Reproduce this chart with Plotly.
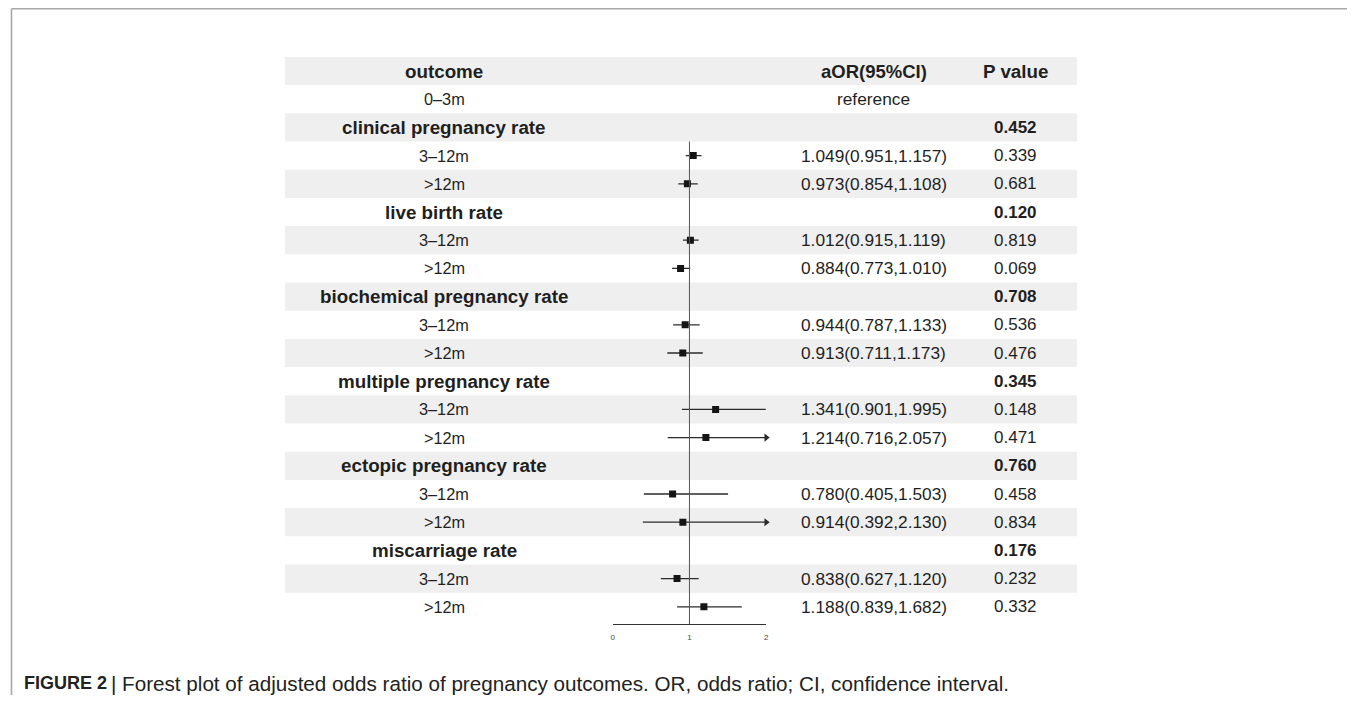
import plotly.graph_objects as go

# ---------------- data ----------------
groups = ["clinical pregnancy rate", "live birth rate", "biochemical pregnancy rate",
          "multiple pregnancy rate", "ectopic pregnancy rate", "miscarriage rate"]
group_p = ["0.452", "0.120", "0.708", "0.345", "0.760", "0.176"]
subgroups = ["3–12m", ">12m"]
ref_label = "0–3m"
ref_text = "reference"
aor = [1.049, 0.973, 1.012, 0.884, 0.944, 0.913, 1.341, 1.214, 0.780, 0.914, 0.838, 1.188]
lower = [0.951, 0.854, 0.915, 0.773, 0.787, 0.711, 0.901, 0.716, 0.405, 0.392, 0.627, 0.839]
upper = [1.157, 1.108, 1.119, 1.010, 1.133, 1.173, 1.995, 2.057, 1.503, 2.130, 1.120, 1.682]
pvals = ["0.339", "0.681", "0.819", "0.069", "0.536", "0.476",
         "0.148", "0.471", "0.458", "0.834", "0.232", "0.332"]
headers = ["outcome", "aOR(95%CI)", "P value"]
x_ticks = [0, 1, 2]
null_value = 1
caption_bold = "FIGURE 2"
caption_rest = "| Forest plot of adjusted odds ratio of pregnancy outcomes. OR, odds ratio; CI, confidence interval."

# ---------------- layout constants (page pixels) ----------------
PAGE_W, PAGE_H = 1355, 703
OFF = 8                      # default body margin of the html page
W, H = PAGE_W - OFF, PAGE_H - 2 * OFF
FONT = "Arial, Liberation Sans, Helvetica, sans-serif"
TXT = "#1f1f1f"
ROW0_PX = 71.0
PITCH = 28.2
AXIS_PX = 624.0
COL_OUT, COL_CI, COL_P = 444, 875, 1017
BAND_L, BAND_R = 284, 1079
XMIN, XMAX = x_ticks[0], x_ticks[-1]


def fx(p):
    return (p - OFF) / W


def fy(p):
    return 1 - (p - OFF) / H


rows = []  # (label, label_bold, ci_text, p_text, p_bold, idx_data)
rows.append((headers[0], True, headers[1], headers[2], True, None))
rows.append((ref_label, False, ref_text, "", False, None))
k = 0
for g, gp in zip(groups, group_p):
    rows.append((g, True, "", gp, True, None))
    for s in subgroups:
        ci = f"{aor[k]:.3f}({lower[k]:.3f},{upper[k]:.3f})"
        rows.append((s, False, ci, pvals[k], False, k))
        k += 1
n_rows = len(rows)

y_top = (OFF - ROW0_PX) / PITCH
y_bot = (AXIS_PX - ROW0_PX) / PITCH

fig = go.Figure()

shapes = []
for i in range(n_rows):
    if i % 2 == 0:
        shapes.append(dict(type="rect", xref="paper", yref="y", x0=fx(BAND_L), x1=fx(BAND_R),
                           y0=i - 0.5, y1=i + 0.5, fillcolor="#efefef", line_width=0, layer="below"))
shapes.append(dict(type="line", xref="x", yref="y", x0=null_value, x1=null_value,
                   y0=2.5, y1=y_bot, line=dict(color="#555555", width=1)))
FRAME = dict(color="#a8a8a8", width=1.6)
shapes.append(dict(type="line", xref="paper", yref="paper", x0=fx(9.5), x1=fx(1353.5),
                   y0=fy(8.8), y1=fy(8.8), line=FRAME))
shapes.append(dict(type="line", xref="paper", yref="paper", x0=fx(9.5), x1=fx(9.5),
                   y0=0, y1=fy(8.8), line=FRAME))
shapes.append(dict(type="line", xref="paper", yref="paper", x0=fx(1353.5), x1=fx(1353.5),
                   y0=0, y1=fy(8.8), line=FRAME))

for i, r in enumerate(rows):
    j = r[5]
    if j is None:
        continue
    hi = min(upper[j], XMAX)
    lo = max(lower[j], XMIN)
    fig.add_trace(go.Scatter(x=[lo, hi], y=[i, i], mode="lines",
                             line=dict(color="#2b2b2b", width=1.3), showlegend=False, hoverinfo="skip"))
    if upper[j] > XMAX:
        fig.add_trace(go.Scatter(x=[hi], y=[i], mode="markers",
                                 marker=dict(symbol="triangle-right", size=7, color="#2b2b2b"),
                                 showlegend=False, hoverinfo="skip", cliponaxis=False))
    fig.add_trace(go.Scatter(x=[aor[j]], y=[i], mode="markers",
                             marker=dict(symbol="square", size=7, color="#151515"),
                             showlegend=False, hoverinfo="skip"))

annotations = []
for i, (lab, lb, ci, pv, pb, j) in enumerate(rows):
    is_header = i == 0
    annotations.append(dict(xref="paper", yref="y", x=fx(COL_OUT), y=i,
                            text=f"<b>{lab}</b>" if lb else lab,
                            showarrow=False, xanchor="center", yanchor="middle",
                            font=dict(family=FONT, size=18.8 if lb else 16.3, color=TXT)))
    if ci:
        annotations.append(dict(xref="paper", yref="y", x=fx(COL_CI), y=i,
                                text=f"<b>{ci}</b>" if is_header else ci,
                                showarrow=False, xanchor="center", yanchor="middle",
                                font=dict(family=FONT, size=18.5 if is_header else 17.3, color=TXT)))
    if pv:
        annotations.append(dict(xref="paper", yref="y", x=fx(COL_P), y=i,
                                text=f"<b>{pv}</b>" if pb else pv,
                                showarrow=False, xanchor="center", yanchor="middle",
                                font=dict(family=FONT, size=18.8 if is_header else 17, color=TXT)))

annotations.append(dict(xref="paper", yref="paper", x=fx(20), y=fy(683),
                        text=f"<b>{caption_bold}</b>", showarrow=False,
                        xanchor="left", yanchor="middle",
                        font=dict(family=FONT, size=18, color="#222222")))
annotations.append(dict(xref="paper", yref="paper", x=fx(107), y=fy(683),
                        text=caption_rest, showarrow=False,
                        xanchor="left", yanchor="middle",
                        font=dict(family=FONT, size=20.65, color="#222222")))

fig.update_layout(
    width=W, height=H, margin=dict(l=0, r=0, t=0, b=0),
    paper_bgcolor="white", plot_bgcolor="rgba(0,0,0,0)",
    shapes=shapes, annotations=annotations, showlegend=False,
    xaxis=dict(domain=[fx(613), fx(767)], range=[XMIN, XMAX], tickvals=x_ticks,
               showgrid=False, zeroline=False, showline=True, linecolor="#333333", linewidth=1,
               ticks="inside", ticklen=4, tickcolor="#333333", tickwidth=1, ticklabelstandoff=5,
               tickfont=dict(family=FONT, size=8, color="#444444"), fixedrange=True),
    yaxis=dict(domain=[fy(AXIS_PX), 1], range=[y_bot, y_top], visible=False,
               showgrid=False, zeroline=False, fixedrange=True),
)

fig.write_html("out.html")
